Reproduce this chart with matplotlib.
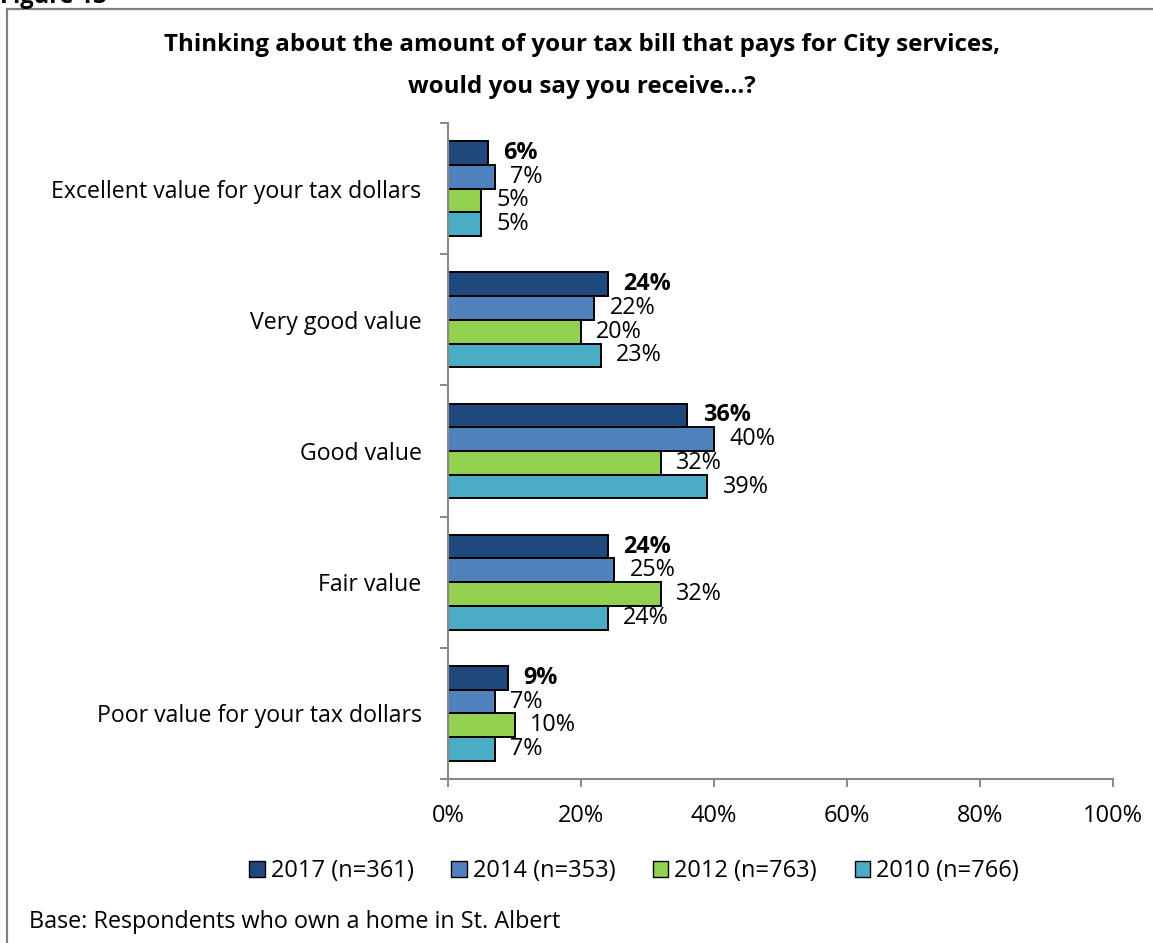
import numpy as np
import matplotlib
matplotlib.use("Agg")
import matplotlib.pyplot as plt
from matplotlib.patches import Patch

plt.rcParams["font.family"] = ["Open Sans", "DejaVu Sans"]

categories = [
    "Excellent value for your tax dollars",
    "Very good value",
    "Good value",
    "Fair value",
    "Poor value for your tax dollars",
]
series = ["2017 (n=361)", "2014 (n=353)", "2012 (n=763)", "2010 (n=766)"]
v2017 = [6, 24, 36, 24, 9]
v2014 = [7, 22, 40, 25, 7]
v2012 = [5, 20, 32, 32, 10]
v2010 = [5, 23, 39, 24, 7]
colors = ["#1F497D", "#4F81BD", "#92D050", "#4BACC6"]
xticks = [0, 20, 40, 60, 80, 100]

W, H = 1153, 943
fig = plt.figure(figsize=(W / 100, H / 100), dpi=100)

ax = fig.add_axes([448 / W, 1 - 779 / H, (1113 - 448) / W, (779 - 123) / H])

bh = 0.181
y = np.arange(len(categories))
for i, (vals, col) in enumerate(zip([v2017, v2014, v2012, v2010], colors)):
    yy = y + (i - 1.5) * bh
    ax.barh(yy, vals, height=bh, color=col, edgecolor="black", linewidth=1.4, label=series[i])
    for yv, v in zip(yy, vals):
        ax.annotate(f"{v}%", (v, yv), xytext=(11, 0), textcoords="offset points",
                    ha="left", va="center", fontsize=16.8,
                    fontweight="bold" if i == 0 else "normal")

ax.set_xlim(0, 100)
ax.set_ylim(len(categories) - 0.5, -0.5)
ax.set_xticks(xticks)
ax.set_xticklabels([f"{t}%" for t in xticks], fontsize=17)
ax.set_yticks(np.arange(len(categories) + 1) - 0.5)
ax.set_yticklabels([])
ax.set_yticks(y, minor=True)
ax.set_yticklabels(categories, minor=True, fontsize=16.7)
ax.tick_params(axis="y", which="minor", length=0, pad=19)
ax.tick_params(axis="y", which="major", length=6, color="#888888", width=1.4)
ax.tick_params(axis="x", length=6, color="#888888", width=1.4, pad=12)
for s in ["top", "right"]:
    ax.spines[s].set_visible(False)
for s in ["left", "bottom"]:
    ax.spines[s].set_color("#888888")
    ax.spines[s].set_linewidth(1.5)

fig.text(582 / W, 1 - 45 / H, "Thinking about the amount of your tax bill that pays for City services,",
         ha="center", va="center", fontsize=17.4, fontweight="bold")
fig.text(582 / W, 1 - 87 / H, "would you say you receive...?",
         ha="center", va="center", fontsize=17.4, fontweight="bold")

handles = [Patch(facecolor=c, edgecolor="black", linewidth=1.0) for c in colors]
fig.legend(handles, series, loc="center", bbox_to_anchor=(634 / W, 1 - 871 / H), ncol=4,
           frameon=False, fontsize=17, handlelength=0.65, handleheight=0.65,
           handletextpad=0.25, columnspacing=1.6)

fig.text(29 / W, 1 - 922 / H, "Base: Respondents who own a home in St. Albert",
         ha="left", va="center", fontsize=16.8)
fig.text(0, 1 - 3 / H, "Figure 13", ha="left", va="baseline", fontsize=17, fontweight="bold")

# frame around the chart block
fig.add_artist(plt.Line2D([7 / W, 7 / W], [0, 1 - 9 / H], color="#808080", lw=1.6))
fig.add_artist(plt.Line2D([7 / W, 1], [1 - 9 / H, 1 - 9 / H], color="#808080", lw=1.6))

fig.savefig("out.png", dpi=100)
